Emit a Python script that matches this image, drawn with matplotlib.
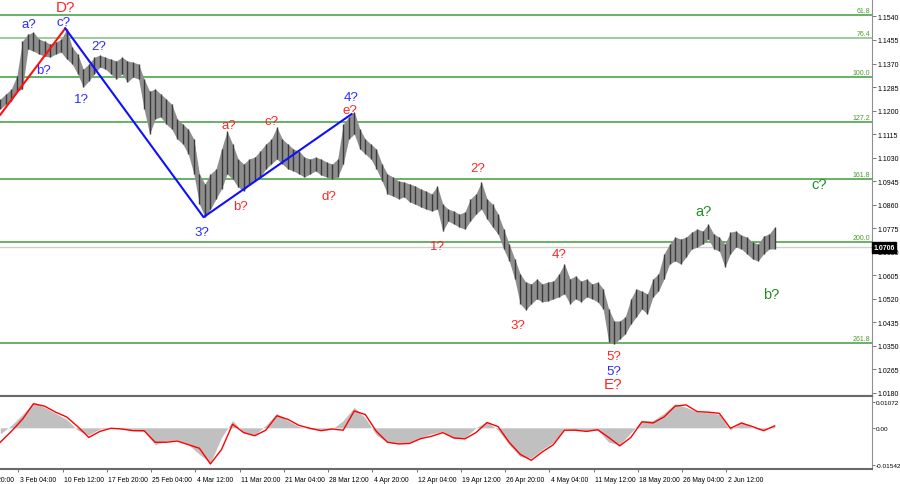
import matplotlib
matplotlib.use("Agg")
import matplotlib.pyplot as plt
import numpy as np

# EURUSD H4, one high/low sample every 4 bars
highs = [1.1242, 1.1260, 1.1278, 1.1325, 1.1451, 1.1476, 1.1483, 1.1458, 1.1451, 1.1440,
         1.1447, 1.1458, 1.1494, 1.1429, 1.1404, 1.1350, 1.1368, 1.1393, 1.1400, 1.1393,
         1.1386, 1.1379, 1.1393, 1.1379, 1.1375, 1.1368, 1.1314, 1.1270, 1.1278, 1.1260,
         1.1242, 1.1223, 1.1170, 1.1151, 1.1133, 1.1097, 1.0971, 1.0935, 1.0971, 1.0989,
         1.1061, 1.1126, 1.1079, 1.1025, 1.1007, 1.1025, 1.1032, 1.1054, 1.1079, 1.1097,
         1.1140, 1.1097, 1.1079, 1.1061, 1.1054, 1.1032, 1.1025, 1.1032, 1.1025, 1.1014,
         1.1007, 1.1025, 1.1151, 1.1177, 1.1195, 1.1133, 1.1097, 1.1079, 1.1061, 1.1007,
         1.0971, 1.0960, 1.0946, 1.0942, 1.0935, 1.0928, 1.0917, 1.0909, 1.0899, 1.0928,
         1.0862, 1.0844, 1.0837, 1.0826, 1.0834, 1.0881, 1.0899, 1.0942, 1.0881, 1.0862,
         1.0826, 1.0772, 1.0718, 1.0664, 1.0610, 1.0581, 1.0574, 1.0592, 1.0574, 1.0581,
         1.0584, 1.0610, 1.0646, 1.0592, 1.0603, 1.0584, 1.0592, 1.0574, 1.0581, 1.0556,
         1.0483, 1.0440, 1.0440, 1.0455, 1.0520, 1.0556, 1.0548, 1.0538, 1.0592, 1.0610,
         1.0682, 1.0718, 1.0743, 1.0736, 1.0743, 1.0761, 1.0772, 1.0765, 1.0790, 1.0754,
         1.0743, 1.0718, 1.0761, 1.0765, 1.0750, 1.0743, 1.0725, 1.0718, 1.0747, 1.0754,
         1.0779]
lows = [1.1205, 1.1223, 1.1234, 1.1270, 1.1278, 1.1422, 1.1415, 1.1404, 1.1397, 1.1393,
        1.1404, 1.1411, 1.1386, 1.1368, 1.1332, 1.1285, 1.1307, 1.1332, 1.1357, 1.1350,
        1.1332, 1.1314, 1.1332, 1.1303, 1.1321, 1.1314, 1.1205, 1.1115, 1.1170, 1.1177,
        1.1151, 1.1133, 1.1097, 1.1079, 1.1043, 1.0971, 1.0862, 1.0815, 1.0844, 1.0881,
        1.0917, 1.0971, 1.0953, 1.0924, 1.0909, 1.0935, 1.0946, 1.0960, 1.0989, 1.1007,
        1.1025, 1.1007, 1.0989, 1.0982, 1.0971, 1.0960, 1.0971, 1.0982, 1.0967, 1.0960,
        1.0953, 1.0960, 1.1007, 1.1097, 1.1115, 1.1061, 1.1043, 1.1025, 1.0989, 1.0946,
        1.0899, 1.0891, 1.0881, 1.0888, 1.0870, 1.0862, 1.0852, 1.0844, 1.0837, 1.0844,
        1.0765, 1.0801, 1.0790, 1.0779, 1.0772, 1.0801, 1.0826, 1.0844, 1.0808, 1.0779,
        1.0754, 1.0700, 1.0657, 1.0592, 1.0502, 1.0480, 1.0502, 1.0520, 1.0509, 1.0512,
        1.0520, 1.0527, 1.0538, 1.0502, 1.0520, 1.0509, 1.0527, 1.0520, 1.0509, 1.0483,
        1.0364, 1.0357, 1.0375, 1.0393, 1.0429, 1.0455, 1.0483, 1.0465, 1.0527, 1.0548,
        1.0592, 1.0646, 1.0657, 1.0646, 1.0671, 1.0700, 1.0707, 1.0718, 1.0736, 1.0700,
        1.0693, 1.0635, 1.0682, 1.0707, 1.0700, 1.0682, 1.0664, 1.0657, 1.0682, 1.0700,
        1.0700]
last_price = 1.0706

# MACD main (histogram) and signal, one sample every 8 bars
macd_main = [-0.0025, 0.0010, 0.0055, 0.0105, 0.0085, 0.0060, 0.0035, -0.0010, -0.0030, -0.0005,
             0.0000, -0.0005, -0.0012, -0.0015, -0.0070, -0.0055, -0.0050, -0.0070, -0.0110, -0.0145,
             -0.0040, 0.0030, -0.0020, -0.0030, 0.0010, 0.0060, 0.0030, 0.0005, -0.0005, -0.0010,
             -0.0005, 0.0030, 0.0085, 0.0040, -0.0030, -0.0060, -0.0065, -0.0060, -0.0040, -0.0025,
             -0.0015, -0.0045, -0.0040, 0.0000, 0.0025, -0.0010, -0.0070, -0.0120, -0.0125, -0.0090,
             -0.0060, -0.0005, -0.0008, -0.0012, -0.0008, -0.0060, -0.0070, -0.0020, 0.0030, 0.0030,
             0.0060, 0.0100, 0.0085, 0.0065, 0.0065, 0.0055, -0.0010, 0.0025, 0.0000, -0.0010,
             0.0010]
macd_signal = [-0.0060, -0.0015, 0.0035, 0.0100, 0.0090, 0.0065, 0.0045, 0.0005, -0.0040, -0.0015,
               -0.0002, -0.0005, -0.0012, -0.0012, -0.0060, -0.0060, -0.0055, -0.0070, -0.0085, -0.0150,
               -0.0090, 0.0015, -0.0020, -0.0033, -0.0010, 0.0050, 0.0035, 0.0010, -0.0002, -0.0012,
               -0.0005, -0.0010, 0.0070, 0.0055, -0.0015, -0.0060, -0.0067, -0.0065, -0.0045, -0.0035,
               -0.0020, -0.0042, -0.0046, -0.0020, 0.0022, 0.0005, -0.0060, -0.0110, -0.0135, -0.0100,
               -0.0070, -0.0010, -0.0010, -0.0015, -0.0008, -0.0040, -0.0075, -0.0040, 0.0025, 0.0020,
               0.0045, 0.0090, 0.0095, 0.0067, 0.0065, 0.0060, -0.0002, 0.0020, 0.0005, -0.0012,
               0.0008]

fib_labels = ["61.8", "76.4", "100.0", "127.2", "161.8", "200.0", "261.8"]
fib_prices = [1.1544, 1.1461, 1.1320, 1.1157, 1.0952, 1.0726, 1.0360]

price_ticks = [1.1540, 1.1455, 1.1370, 1.1285, 1.1200, 1.1115, 1.1030, 1.0945, 1.0860,
               1.0775, 1.0690, 1.0605, 1.0520, 1.0435, 1.0350, 1.0265, 1.0180]
macd_ticks = [0.01072, 0.0, -0.01542]
macd_tick_labels = ["0.01072", "0.00", "-0.01542"]

date_labels = ["3 Feb 04:00", "10 Feb 12:00", "17 Feb 20:00", "25 Feb 04:00", "4 Mar 12:00",
               "11 Mar 20:00", "21 Mar 04:00", "28 Mar 12:00", "4 Apr 20:00", "12 Apr 04:00",
               "19 Apr 12:00", "26 Apr 20:00", "4 May 04:00", "11 May 12:00", "18 May 20:00",
               "26 May 04:00", "2 Jun 12:00"]
first_date_bar = 13
bars_per_label = 32

# wave markup: (bar, price)
red_wave = [(0, 1.1185), (47, 1.1497)]
blue_wave = [(47, 1.1497), (147, 1.0815), (254, 1.1187)]

# wave labels: text, bar, price, colour
RED, BLUE, GREEN = "#ff2424", "#2a2aff", "#1f8f1f"
wave_labels = [
    ("D?", 47.5, 1.1574, RED), ("a?", 21.0, 1.1512, BLUE), ("c?", 46.0, 1.1519, BLUE),
    ("b?", 31.6, 1.1346, BLUE), ("2?", 71.4, 1.1432, BLUE), ("1?", 59.0, 1.1242, BLUE),
    ("3?", 146.0, 1.0761, BLUE), ("a?", 165.5, 1.1148, RED), ("b?", 174.0, 1.0855, RED),
    ("c?", 196.4, 1.1162, RED), ("d?", 237.5, 1.0892, RED), ("4?", 253.5, 1.1249, BLUE),
    ("e?", 253.0, 1.1202, RED), ("1?", 316.5, 1.0710, RED), ("2?", 345.4, 1.0992, RED),
    ("3?", 374.3, 1.0426, RED), ("4?", 404.0, 1.0682, RED), ("5?", 443.5, 1.0314, RED),
    ("5?", 443.5, 1.0261, BLUE), ("E?", 443.5, 1.0213, RED), ("a?", 508.7, 1.0837, GREEN),
    ("b?", 557.3, 1.0538, GREEN), ("c?", 592.0, 1.0935, GREEN),
]

fig = plt.figure(figsize=(9, 4.85), dpi=100)
ax = fig.add_axes([0, 1 - 397 / 485, 872 / 900, 397 / 485])
ax2 = fig.add_axes([0, 15 / 485, 872 / 900, 73 / 485])

xlim = (-0.2, 630.4)
for a in (ax, ax2):
    a.set_xlim(*xlim)
    a.set_facecolor("white")

# price bars
bars = np.arange(len(highs)) * 4
ax.fill_between(bars, lows, highs, color="#8e8e8e", lw=0, zorder=2)
ax.vlines(bars, lows, highs, color="#3a3a3a", lw=1.0, zorder=3)

# fibo levels
for lab, p in zip(fib_labels, fib_prices):
    col = "#9ccc9c" if lab == "76.4" else "#3c9e3c"
    ax.axhline(p, color=col, lw=1.4 if lab == "76.4" else 1.1, zorder=1)
    ax.text(xlim[1] - 1.5, p + 0.0004, lab, color="#4c9a2a", fontsize=5,
            ha="right", va="bottom", family="Liberation Sans")

ax.axhline(last_price, color="#cfcfcf", lw=1.0, zorder=1)

# wave lines
ax.plot(*zip(*red_wave), color="#ff1010", lw=1.5, zorder=4)
ax.plot(*zip(*blue_wave), color="#1010ff", lw=1.5, zorder=4)

for txt, b, p, col in wave_labels:
    size = 11 if txt in ("D?", "E?") else (10.5 if col == GREEN else 9.5)
    ax.text(b, p, txt, color=col, fontsize=size, ha="center", va="center",
            family="Liberation Sans", zorder=5)

ax.set_ylim(1.0169, 1.1603)
ax.yaxis.tick_right()
ax.set_yticks(price_ticks)
ax.set_yticklabels([f"{t:.4f}" for t in price_ticks], fontsize=5, family="Liberation Sans")
ax.tick_params(axis="y", length=3, width=0.6, color="#606060", pad=1.2)
ax.set_xticks([])
for s in ("top", "left"):
    ax.spines[s].set_visible(False)
ax.spines["right"].set_color("#909090")
ax.spines["bottom"].set_color("#6a6a6a")
ax.spines["bottom"].set_linewidth(1.5)

ax.text(xlim[1] + 1, last_price, f"{last_price:.4f}", color="white", fontsize=5,
        fontweight="bold", ha="left", va="center", family="Liberation Sans",
        bbox=dict(boxstyle="square,pad=0.25", fc="black", ec="black"), clip_on=False, zorder=6)

# MACD panel
mbars = np.arange(len(macd_main)) * 8
ax2.fill_between(mbars, 0, macd_main, color="#c0c0c0", lw=0)
ax2.plot(mbars, macd_signal, color="#ff0000", lw=1.0)
ax2.set_ylim(-0.0171, 0.0132)
ax2.yaxis.tick_right()
ax2.set_yticks(macd_ticks)
ax2.set_yticklabels(macd_tick_labels, fontsize=4.6, family="Liberation Sans")
ax2.tick_params(axis="y", length=2, width=0.6, color="#606060", pad=0.5)
ax2.spines["left"].set_visible(False)
ax2.spines["right"].set_color("#909090")
for s in ("top", "bottom"):
    ax2.spines[s].set_color("#6a6a6a")
    ax2.spines[s].set_linewidth(1.5)

tick_bars = [first_date_bar + bars_per_label * i for i in range(len(date_labels))]
ax2.set_xticks(tick_bars)
ax2.set_xticklabels([])
ax2.tick_params(axis="x", length=2.5, width=0.6, color="#606060")
for b, lab in zip(tick_bars, date_labels):
    ax2.text(b + 1, -0.0200, lab, fontsize=4.9, ha="left", va="top",
             family="Liberation Sans", clip_on=False)
ax2.text(first_date_bar - bars_per_label + 1, -0.0200, "26 Jan 20:00", fontsize=4.9,
         ha="left", va="top", family="Liberation Sans", clip_on=False)

fig.savefig("out.png", dpi=100)
